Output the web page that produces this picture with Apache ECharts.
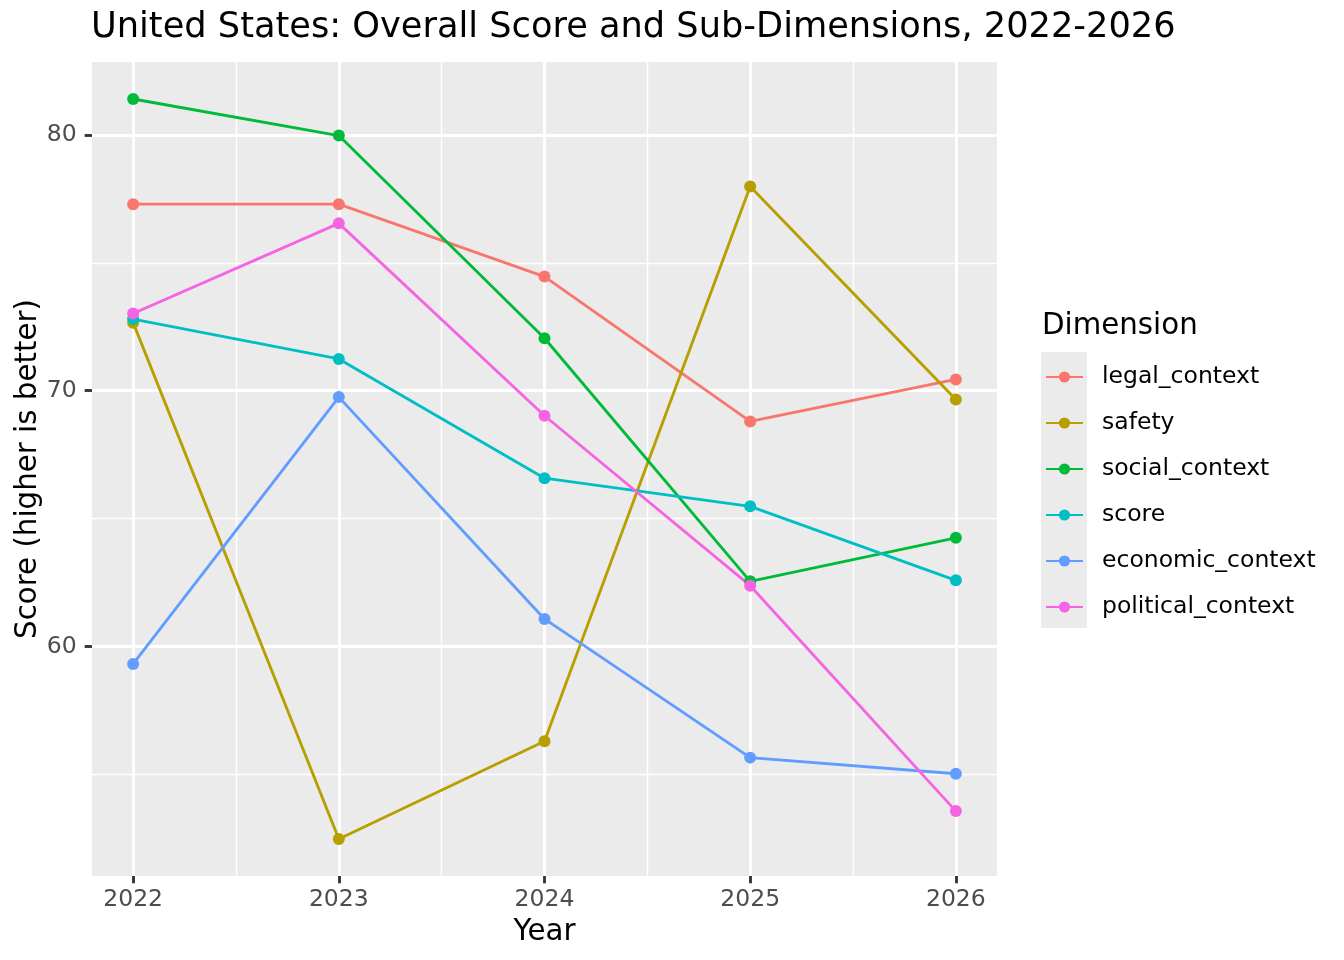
<!DOCTYPE html>
<html><head><meta charset="utf-8">
<script src="https://cdn.jsdelivr.net/npm/echarts@6/dist/echarts.min.js"></script>
<style>html,body{margin:0;padding:0;background:#fff}#c{width:1344px;height:960px}</style>
</head><body><div id="c"></div>
<script>
// ---- data ----
const years = [2022, 2023, 2024, 2025, 2026];
const legalContext     = [77.29, 77.29, 74.46, 68.80, 70.44];
const safety           = [72.66, 52.48, 56.30, 77.98, 69.66];
const socialContext    = [81.40, 79.97, 72.05, 62.55, 64.25];
const score            = [72.80, 71.24, 66.58, 65.48, 62.59];
const economicContext  = [59.32, 69.75, 61.08, 55.66, 55.03];
const politicalContext = [73.02, 76.54, 69.02, 62.38, 53.57];
const seriesNames = ['legal_context', 'safety', 'social_context', 'score', 'economic_context', 'political_context'];
const yMajorTicks = [60, 70, 80];
const yMinorTicks = [55, 65, 75];
const xMinorTicks = [2022.5, 2023.5, 2024.5, 2025.5];

// ---- chart ----
const seriesValues = [legalContext, safety, socialContext, score, economicContext, politicalContext];
const palette = ['#F8766D', '#B79F00', '#00BA38', '#00BFC4', '#619CFF', '#F564E3'];
const FONT = 'DejaVu Sans';
const allVals = seriesValues.flat();
const dMin = Math.min(...allVals), dMax = Math.max(...allVals);
const yPad = (dMax - dMin) * 0.05;
const yMin = dMin - yPad, yMax = dMax + yPad;
const xPad = (years[years.length - 1] - years[0]) * 0.05;
const xMin = years[0] - xPad, xMax = years[years.length - 1] + xPad;

const chart = echarts.init(document.getElementById('c'), null, {renderer: 'canvas'});
const option = {
  animation: false,
  backgroundColor: '#fff',
  textStyle: {fontFamily: FONT},
  title: {
    text: 'United States: Overall Score and Sub-Dimensions, 2022-2026',
    left: 91, top: 10, padding: 0,
    textStyle: {fontFamily: FONT, fontSize: 35.2, fontWeight: 'normal', color: '#000', lineHeight: 36}
  },
  grid: {left: 92, right: 347, top: 62, bottom: 84, show: true, backgroundColor: '#EBEBEB', borderWidth: 0,
         containLabel: false, outerBoundsMode: 'none'},
  xAxis: [{
    type: 'value', min: xMin, max: xMax,
    name: 'Year', nameLocation: 'middle', nameGap: 41, nameMoveOverlap: false,
    nameTextStyle: {fontFamily: FONT, fontSize: 29.3, color: '#000', lineHeight: 30},
    axisLine: {show: false},
    axisTick: {show: true, length: 7.3, customValues: years, lineStyle: {color: '#333333', width: 2.84}},
    axisLabel: {customValues: years, color: '#4D4D4D', fontFamily: FONT, fontSize: 23.5, lineHeight: 24, margin: 12, formatter: v => String(v)},
    splitLine: {show: true, lineStyle: {color: '#FFFFFF', width: 2.84}}
  }, {
    type: 'value', min: xMin, max: xMax, position: 'bottom',
    axisLine: {show: false},
    axisTick: {show: false, customValues: xMinorTicks},
    axisLabel: {show: false, customValues: xMinorTicks},
    splitLine: {show: true, lineStyle: {color: '#FFFFFF', width: 1.42}}
  }],
  yAxis: [{
    type: 'value', min: yMin, max: yMax,
    name: 'Score (higher is better)', nameLocation: 'middle', nameGap: 49, nameRotate: 90, nameMoveOverlap: false,
    nameTextStyle: {fontFamily: FONT, fontSize: 29.3, color: '#000', lineHeight: 30},
    axisLine: {show: false},
    axisTick: {show: true, length: 7.3, customValues: yMajorTicks, lineStyle: {color: '#333333', width: 2.84}},
    axisLabel: {customValues: yMajorTicks, color: '#4D4D4D', fontFamily: FONT, fontSize: 23.5, margin: 15.3},
    splitLine: {show: true, lineStyle: {color: '#FFFFFF', width: 2.84}}
  }, {
    type: 'value', min: yMin, max: yMax, position: 'left',
    axisLine: {show: false},
    axisTick: {show: false, customValues: yMinorTicks},
    axisLabel: {show: false, customValues: yMinorTicks},
    splitLine: {show: true, lineStyle: {color: '#FFFFFF', width: 1.42}}
  }],
  legend: {
    orient: 'vertical', left: 1045, top: 365, padding: 0,
    itemWidth: 37, itemHeight: 14, itemGap: 22,
    data: seriesNames,
    textStyle: {fontFamily: FONT, fontSize: 23.5, color: '#000', lineHeight: 24, padding: [0, 0, 0, 14]},
    selectedMode: false
  },
  graphic: [{
    type: 'rect', left: 1041, top: 352, z: -1,
    shape: {width: 46, height: 276},
    style: {fill: '#EBEBEB'}
  }, {
    type: 'text', x: 1042, y: 326,
    style: {text: 'Dimension', font: '29.3px "DejaVu Sans"', fill: '#000', verticalAlign: 'middle', align: 'left'}
  }],
  series: seriesNames.map((name, i) => ({
    name: name, type: 'line',
    xAxisIndex: 0, yAxisIndex: 0,
    data: years.map((yr, j) => [yr, seriesValues[i][j]]),
    symbol: 'circle', symbolSize: 12, showSymbol: true,
    lineStyle: {color: palette[i], width: 2.84},
    itemStyle: {color: palette[i]},
    emphasis: {disabled: true},
    silent: true
  }))
};
chart.setOption(option);
</script>
</body></html>
